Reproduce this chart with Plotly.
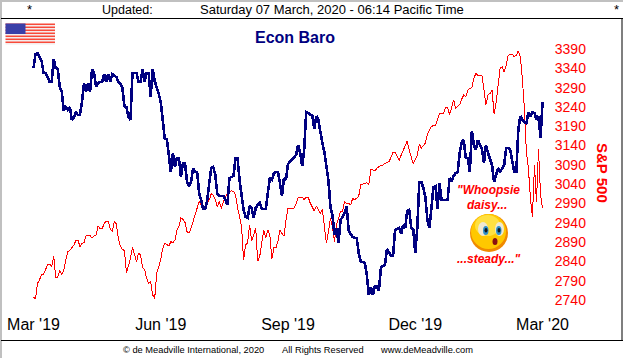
import plotly.graph_objects as go

tick_sessions = [0, 63, 126, 189, 252]
tick_labels = ["Mar '19", "Jun '19", "Sep '19", "Dec '19", "Mar '20"]
sp_ticks = [2740, 2790, 2840, 2890, 2940, 2990, 3040, 3090, 3140, 3190, 3240, 3290, 3340, 3390]

sp_sessions = [0,1,2,3,4,5,6,7,8,9,10,11,12,13,14,15,16,17,18,19,20,21,22,23,24,25,26,27,28,29,30,31,32,33,34,35,36,37,38,39,40,41,42,43,44,45,46,47,48,49,50,51,52,53,54,55,56,57,58,59,60,61,62,63,64,65,66,67,68,69,70,71,72,73,74,75,76,77,78,79,80,81,82,83,84,85,86,87,88,89,90,91,92,93,94,95,96,97,98,99,100,101,102,103,104,105,106,107,108,109,110,111,112,113,114,115,116,117,118,119,120,121,122,123,124,125,126,127,129,130,131,132,133,134,135,136,137,139,140,141,142,143,144,145,146,147,148,149,150,151,152,153,154,155,156,157,158,159,160,161,162,163,164,165,166,167,168,169,170,171,172,173,174,175,176,177,178,179,180,181,182,183,184,185,186,187,188,189,190,191,192,193,194,195,196,197,198,199,200,201,202,203,204,205,206,207,208,209,210,211,212,213,214,215,216,217,218,219,220,221,222,223,224,225,226,227,228,229,230,231,232,233,234,235,236,237,238,239,240,241,242,243,244,245,246,247,248,249,250,251,252]
sp_values = [2747,2743,2783,2792,2807,2807,2819,2831,2833,2825,2854,2799,2799,2816,2805,2818,2844,2866,2868,2874,2882,2894,2895,2878,2887,2888,2906,2908,2907,2900,2906,2908,2932,2925,2925,2938,2944,2943,2925,2917,2943,2937,2900,2880,2871,2868,2811,2828,2848,2876,2856,2839,2862,2856,2824,2819,2796,2783,2787,2753,2744,2809,2826,2845,2874,2887,2884,2880,2891,2888,2895,2921,2930,2953,2949,2941,2917,2913,2926,2943,2965,2980,2995,2985,2977,2980,2990,2999,3015,3012,2999,2982,2995,2977,2995,3008,3016,3020,3023,3021,3012,2980,2950,2931,2843,2883,2888,2935,2892,2909,2926,2840,2853,2888,2922,2901,2922,2909,2846,2875,2875,2892,2922,2912,2905,2948,2977,2978,2978,2990,3006,3006,3006,3000,3006,3006,2991,2970,2983,2975,2963,2975,2921,2887,2917,2951,2930,2891,2934,2955,2969,2969,2995,2990,2990,2986,3003,2999,3004,3009,3038,3040,3042,3044,3038,3077,3077,3075,3081,3085,3089,3089,3094,3096,3098,3110,3122,3122,3111,3101,3115,3128,3140,3152,3128,3111,3092,3105,3115,3144,3133,3140,3146,3170,3180,3190,3191,3193,3206,3223,3223,3223,3239,3238,3220,3236,3258,3236,3241,3246,3260,3271,3266,3283,3288,3290,3314,3327,3322,3321,3322,3279,3246,3271,3275,3283,3223,3250,3290,3340,3344,3331,3348,3374,3375,3376,3370,3374,3385,3370,3314,3236,3124,3081,3003,2956,3089,2994,3131,3012,2977]

baro_sessions = [0,1,2,3,4,5,6,7,8,9,10,11,12,13,14,15,16,17,18,19,20,21,22,23,24,25,26,27,28,29,30,31,32,33,34,35,36,37,38,39,40,41,42,43,44,45,46,47,48,49,50,51,52,53,54,55,56,57,58,59,60,61,62,63,64,65,66,67,68,69,70,71,72,73,74,75,76,77,78,79,80,81,82,83,84,85,86,87,88,89,90,91,92,93,94,95,96,97,98,99,100,101,102,103,104,105,106,107,108,109,110,111,112,113,114,115,116,117,118,119,120,121,122,123,124,125,126,127,128,129,130,131,132,133,134,135,136,137,138,139,140,141,142,143,144,145,146,147,148,149,150,151,152,153,154,155,156,157,158,159,160,161,162,163,164,165,166,167,168,169,170,171,172,173,174,175,176,177,178,179,180,181,182,183,184,185,186,187,188,189,190,191,192,193,194,195,196,197,198,199,200,201,202,203,204,205,206,207,208,209,210,211,212,213,214,215,216,217,218,219,220,221,222,223,224,225,226,227,228,229,230,231,232,233,234,235,236,237,238,239,240,241,242,243,244,245,246,247,248,249,250,251,252]
baro_values = [290,304,305,300,297,285,285,281,276,276,299,290,289,271,266,247,251,248,251,238,240,246,243,243,256,275,266,275,266,289,285,271,275,276,276,284,276,284,276,284,282,281,276,274,270,252,251,241,238,285,285,285,276,276,289,276,285,285,261,289,277,271,264,256,238,219,219,203,186,205,191,200,200,181,195,195,176,172,176,190,186,186,165,158,149,149,158,175,190,191,183,164,162,162,162,158,153,180,181,182,200,200,178,160,148,141,140,152,150,140,150,153,155,149,149,149,165,180,178,185,186,186,175,162,180,178,194,196,198,201,203,213,205,192,208,246,245,243,243,229,242,238,225,215,206,193,178,151,143,123,130,115,138,141,145,152,128,124,121,120,120,105,96,96,95,83,63,71,63,72,72,67,91,92,93,109,105,102,102,128,129,130,124,133,130,147,148,130,128,105,130,176,176,170,161,138,130,148,171,172,149,175,158,158,158,158,180,177,182,185,186,205,216,218,200,200,186,227,213,208,218,214,209,195,213,205,198,193,176,183,190,186,190,193,210,210,208,198,186,186,228,242,238,236,235,246,241,246,245,238,242,220,256]

W, H = 623, 358
L, R, T, B = 25, 550, 40, 305


def px(x):
    return (x - L) / (R - L)


def py(y):
    return (B - y) / (B - T)


fig = go.Figure()
fig.add_trace(go.Scatter(x=sp_sessions, y=sp_values, mode="lines", yaxis="y",
                         line=dict(color="#ff0000", width=1), hoverinfo="skip"))
fig.add_trace(go.Scatter(x=baro_sessions, y=baro_values, mode="lines", yaxis="y2",
                         line=dict(color="#000080", width=2.6), hoverinfo="skip"))

shapes = []


def rect(x0, y0, x1, y1, color, layer="above"):
    shapes.append(dict(type="rect", xref="paper", yref="paper", x0=px(x0), x1=px(x1),
                       y0=py(y0), y1=py(y1), fillcolor=color, line=dict(width=0), layer=layer))


def oval(x0, y0, x1, y1, color):
    shapes.append(dict(type="circle", xref="paper", yref="paper", x0=px(x0), x1=px(x1),
                       y0=py(y0), y1=py(y1), fillcolor=color, line=dict(width=0), layer="above"))


# window frame
rect(0, 0, 623, 2, "#c0c0c0")
rect(0, 0, 2, 358, "#c0c0c0")
rect(1, 18, 623, 19, "#000000")
rect(1, 340, 623, 341, "#000000")
rect(621.5, 18, 622.5, 341, "#000000")

# flag
for i in range(7):
    y0 = 23.5 + i * 3
    rect(5.5, y0, 55, y0 + 1.6, "#f84a3a")
    rect(5.5, y0 + 1.6, 55, y0 + 3, "#f4ecec")
rect(5.5, 23.5, 25.5, 34, "#3a3fa8")

# face
oval(470, 214, 508, 252, "#f08a00")
oval(471, 214, 506, 249, "#ffc800")
oval(475, 215, 500, 236, "#ffe040")
oval(478, 222, 488, 236, "#f0e8d0")
oval(495, 222, 504, 236, "#f0e8d0")
oval(483, 226, 488.5, 235, "#2f8fc8")
oval(496, 226, 501.5, 235, "#2f8fc8")
oval(484.5, 228, 487.5, 232.5, "#101820")
oval(497.5, 228, 500.5, 232.5, "#101820")
oval(492.5, 238, 497.5, 245, "#8a1010")

ann = []


def text(x, y, s, size, color="#000000", bold=False, italic=False, angle=0):
    if bold:
        s = "<b>" + s + "</b>"
    if italic:
        s = "<i>" + s + "</i>"
    ann.append(dict(x=px(x), y=py(y), xref="paper", yref="paper", text=s, showarrow=False,
                    xanchor="center", yanchor="middle", textangle=angle,
                    font=dict(family="Liberation Sans", size=size, color=color)))


text(29, 9, "*", 13)
text(127, 10.5, "Updated:", 12.5)
text(332, 9.5, "Saturday 07 March, 2020 - 06:14 Pacific Time", 13)
text(616, 9, "*", 13)
text(295, 37, "Econ Baro", 16, "#000080", bold=True)
text(603, 173, "S&amp;P 500", 15, "#ff0000", bold=True, angle=90)
text(193, 350, "© de Meadville International, 2020", 9.3)
text(322.5, 350, "All Rights Reserved", 9.3)
text(426.5, 350, "www.deMeadville.com", 9.3)
text(488, 190, "\"Whoopsie", 12, "#ff0000", bold=True, italic=True)
text(487, 205, "daisy...", 12, "#ff0000", bold=True, italic=True)
text(489, 259, "...steady...\"", 12, "#ff0000", bold=True, italic=True)

fig.update_layout(
    width=W, height=H, autosize=False,
    margin=dict(l=L, r=W - R, t=T, b=H - B, pad=0, autoexpand=False),
    paper_bgcolor="#ffffff", plot_bgcolor="#ffffff", showlegend=False,
    font=dict(family="Liberation Sans"),
    shapes=shapes, annotations=ann,
    xaxis=dict(range=[(L - 33.5) / 2.02, (R - 33.5) / 2.02], tickmode="array",
               tickvals=tick_sessions, ticktext=tick_labels, showgrid=False, zeroline=False,
               showline=False, ticks="outside", ticklen=5, tickcolor="rgba(0,0,0,0)",
               tickfont=dict(size=16, color="#000000", family="Liberation Sans")),
    yaxis=dict(range=[3390 - (B - 49) * 2.59, 3390 + (49 - T) * 2.59], side="right",
               tickmode="array", tickvals=sp_ticks, showgrid=False, zeroline=False,
               showline=False, ticks="outside", ticklen=1, tickcolor="rgba(0,0,0,0)",
               tickfont=dict(size=14, color="#ff0000", family="Liberation Sans")),
    yaxis2=dict(range=[358 - B, 358 - T], overlaying="y", side="left", visible=False),
)

page_fix = ("document.documentElement.style.margin='0';document.body.style.margin='0';"
            "document.body.style.padding='0';document.body.style.overflow='hidden';"
            "document.querySelectorAll('.scatterlayer path.js-line').forEach("
            "function(p){p.style.shapeRendering='crispEdges';});")
fig.write_html("out.html", config={"displayModeBar": False}, post_script=page_fix)
